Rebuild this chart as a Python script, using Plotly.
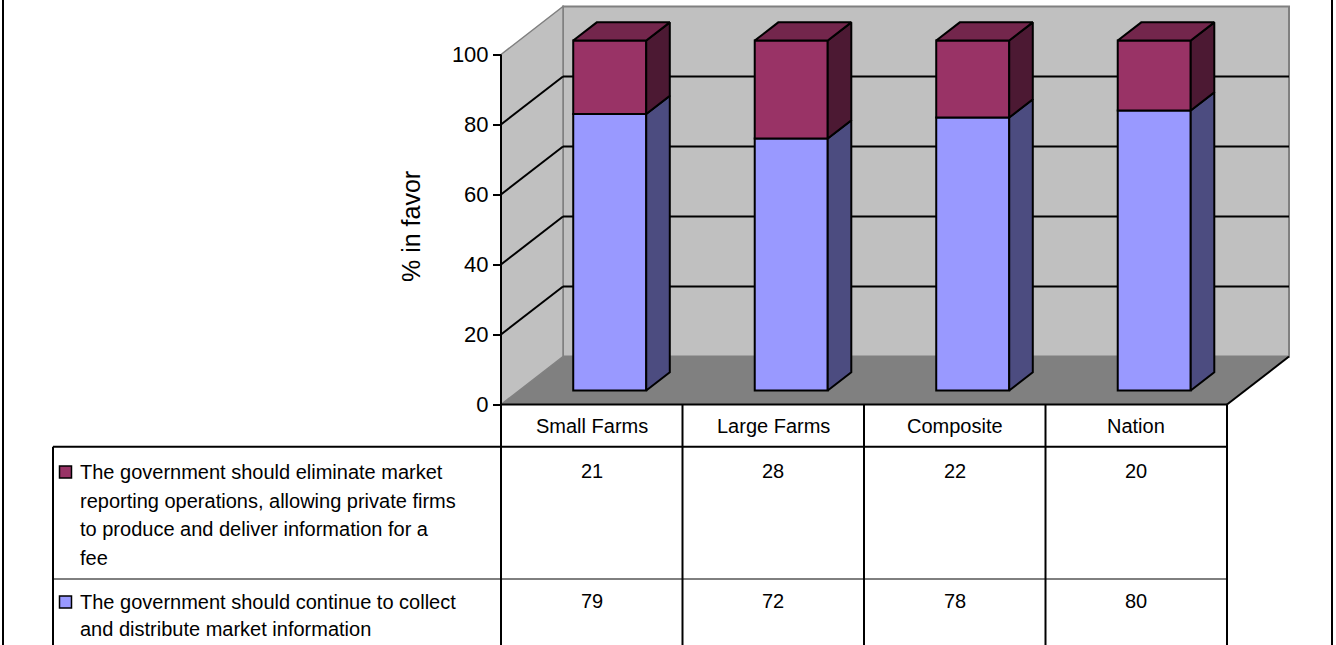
import plotly.graph_objects as go

# ---- data -------------------------------------------------------------
categories = ["Small Farms", "Large Farms", "Composite", "Nation"]
continue_vals = [79, 72, 78, 80]      # collect & distribute
eliminate_vals = [21, 28, 22, 20]     # eliminate, private firms
series_labels = [
    ["The government should eliminate market",
     "reporting operations, allowing private firms",
     "to produce and deliver information for a",
     "fee"],
    ["The government should continue to collect",
     "and distribute market information"],
]
y_ticks = [0, 20, 40, 60, 80, 100]
axis_title = "% in favor"

# ---- styling / layout constants -----------------------------------------
W, H = 1336, 645
FONT = "Arial, Liberation Sans, sans-serif"
BLUE, BLUE_SIDE = "#9999FF", "#4C4C80"
RED, RED_SIDE, RED_TOP = "#993366", "#4C1933", "#73264C"
WALL, FLOOR, EDGE = "#C0C0C0", "#808080", "#808080"

X0_PX, CAT_PX = 501, 181.5      # left front floor corner, width of one category
Y0_PX, VAL_PX = 404.5, 3.5      # baseline pixel row, pixels per percent

x_lo = -0.5 - X0_PX / CAT_PX
x_hi = x_lo + W / CAT_PX
y_lo = (Y0_PX - H) / VAL_PX
y_hi = Y0_PX / VAL_PX


def px2x(px):
    return -0.5 + (px - X0_PX) / CAT_PX


def py2y(py):
    return (Y0_PX - py) / VAL_PX


DX = 62 / CAT_PX            # oblique depth offset (x)
DY = 48 / VAL_PX            # oblique depth offset (y)
F_FRONT, F_BACK = 0.29, 0.67
BAR_W = 73 / CAT_PX

n = len(categories)
xl_end = n - 0.5

fig = go.Figure()
shapes = []


def path(pts):
    return "M " + " L ".join(f"{x},{y}" for x, y in pts) + " Z"


# walls and floor
shapes.append(dict(type="path", layer="below", xref="x", yref="y",
                   path=path([(-0.5, 0), (xl_end, 0), (xl_end + DX, DY), (-0.5 + DX, DY)]),
                   fillcolor=FLOOR, line=dict(width=0)))
shapes.append(dict(type="rect", layer="below", xref="x", yref="y",
                   x0=-0.5 + DX, x1=xl_end + DX, y0=DY, y1=100 + DY,
                   fillcolor=WALL, line=dict(color=EDGE, width=2)))
shapes.append(dict(type="path", layer="below", xref="x", yref="y",
                   path=path([(-0.5, 0), (-0.5, 100), (-0.5 + DX, 100 + DY), (-0.5 + DX, DY)]),
                   fillcolor=WALL, line=dict(color=EDGE, width=1.5)))
# gridlines on the back and side walls
for v in y_ticks[1:-1]:
    shapes.append(dict(type="line", layer="below", xref="x", yref="y",
                       x0=-0.5 + DX, x1=xl_end + DX, y0=v + DY, y1=v + DY,
                       line=dict(color="black", width=2)))
    shapes.append(dict(type="line", layer="below", xref="x", yref="y",
                       x0=-0.5, x1=-0.5 + DX, y0=v, y1=v + DY,
                       line=dict(color="black", width=2)))
# floor right edge
shapes.append(dict(type="line", layer="above", xref="x", yref="y",
                   x0=xl_end, x1=xl_end + DX, y0=0, y1=DY,
                   line=dict(color="black", width=2)))
# value axis line
shapes.append(dict(type="line", layer="above", xref="x", yref="y",
                   x0=-0.5, x1=-0.5, y0=0, y1=100,
                   line=dict(color="black", width=2)))

# ---- bars: front faces ------------------------------------------------
xs = [i + F_FRONT * DX for i in range(n)]
base0 = F_FRONT * DY
fig.add_trace(go.Bar(x=xs, y=continue_vals, base=[base0] * n, width=BAR_W,
                     marker=dict(color=BLUE, line=dict(color="black", width=2)),
                     showlegend=False, hoverinfo="skip"))
fig.add_trace(go.Bar(x=xs, y=eliminate_vals, base=[base0 + v for v in continue_vals],
                     width=BAR_W,
                     marker=dict(color=RED, line=dict(color="black", width=2)),
                     showlegend=False, hoverinfo="skip"))

# ---- bars: side and top faces -------------------------------------------
ddx = (F_BACK - F_FRONT) * DX
ddy = (F_BACK - F_FRONT) * DY


def side_faces(lows, highs):
    px, py = [], []
    for x, lo, hi in zip(xs, lows, highs):
        xr = x + BAR_W / 2
        px += [xr, xr, xr + ddx, xr + ddx, xr, None]
        py += [base0 + lo, base0 + hi, base0 + hi + ddy, base0 + lo + ddy, base0 + lo, None]
    return px, py


bx, by = side_faces([0] * n, continue_vals)
fig.add_trace(go.Scatter(x=bx, y=by, mode="lines", fill="toself", fillcolor=BLUE_SIDE,
                         line=dict(color="black", width=2), showlegend=False, hoverinfo="skip"))
tops = [a + b for a, b in zip(continue_vals, eliminate_vals)]
rx, ry = side_faces(continue_vals, tops)
fig.add_trace(go.Scatter(x=rx, y=ry, mode="lines", fill="toself", fillcolor=RED_SIDE,
                         line=dict(color="black", width=2), showlegend=False, hoverinfo="skip"))
tx, ty = [], []
for x, t in zip(xs, tops):
    xl, xr = x - BAR_W / 2, x + BAR_W / 2
    tx += [xl, xr, xr + ddx, xl + ddx, xl, None]
    ty += [base0 + t, base0 + t, base0 + t + ddy, base0 + t + ddy, base0 + t, None]
fig.add_trace(go.Scatter(x=tx, y=ty, mode="lines", fill="toself", fillcolor=RED_TOP,
                         line=dict(color="black", width=2), showlegend=False, hoverinfo="skip"))

# ---- data table -------------------------------------------------------
HEAD_BOT, ROW_DIV = 446.7, 579
TABLE_LEFT = 53
bottom = y_lo
for i in range(n + 1):
    shapes.append(dict(type="line", xref="x", yref="y", x0=i - 0.5, x1=i - 0.5,
                       y0=0, y1=bottom, line=dict(color="black", width=2)))
shapes.append(dict(type="line", xref="x", yref="y", x0=px2x(TABLE_LEFT), x1=px2x(TABLE_LEFT),
                   y0=py2y(HEAD_BOT), y1=bottom, line=dict(color="black", width=2)))
shapes.append(dict(type="line", xref="x", yref="y", x0=px2x(TABLE_LEFT), x1=xl_end,
                   y0=py2y(HEAD_BOT), y1=py2y(HEAD_BOT), line=dict(color="black", width=2)))
shapes.append(dict(type="line", xref="x", yref="y", x0=px2x(TABLE_LEFT), x1=xl_end,
                   y0=py2y(ROW_DIV), y1=py2y(ROW_DIV), line=dict(color="black", width=1)))
shapes.append(dict(type="line", xref="x", yref="y", x0=-0.5, x1=xl_end,
                   y0=0, y1=0, line=dict(color="black", width=2)))
# outer frame
for xp in (3, W - 4):
    shapes.append(dict(type="line", xref="paper", yref="paper", x0=xp / W, x1=xp / W,
                       y0=0, y1=1, line=dict(color="black", width=2)))

annotations = []
tfont = dict(family=FONT, size=20, color="black")
for i, c in enumerate(categories):
    annotations.append(dict(x=i, y=py2y(425.5), text=c, showarrow=False,
                            xanchor="center", yanchor="middle", font=tfont))

row_first_line = [472, 602]
line_gap = [28.7, 27]
row_values = [eliminate_vals, continue_vals]
row_colors = [RED, BLUE]
for r in range(2):
    for i, v in enumerate(row_values[r]):
        annotations.append(dict(x=i, y=py2y(row_first_line[r] - 1), text=str(v), showarrow=False,
                                xanchor="center", yanchor="middle", font=tfont))
    for k, line in enumerate(series_labels[r]):
        annotations.append(dict(x=px2x(78), y=py2y(row_first_line[r] + k * line_gap[r]),
                                text=line, showarrow=False, xanchor="left",
                                yanchor="middle", font=tfont))
    fig.add_trace(go.Scatter(x=[px2x(65.5)], y=[py2y(row_first_line[r])], mode="markers",
                             marker=dict(symbol="square", size=12, color=row_colors[r],
                                         line=dict(color="black", width=1.5)),
                             showlegend=False, hoverinfo="skip"))

annotations.append(dict(x=411 / W, y=1 - 227 / H, xref="paper", yref="paper",
                        text=axis_title, textangle=-90, showarrow=False,
                        xanchor="center", yanchor="middle",
                        font=dict(family=FONT, size=25, color="black")))

fig.update_layout(
    width=W, height=H,
    margin=dict(l=0, r=0, t=0, b=0),
    paper_bgcolor="white", plot_bgcolor="white",
    barmode="overlay",
    showlegend=False,
    xaxis=dict(range=[x_lo, x_hi], domain=[0, 1], visible=False, fixedrange=True),
    yaxis=dict(range=[y_lo, y_hi], domain=[0, 1], anchor="free", position=X0_PX / W,
               tickvals=y_ticks, ticks="outside", ticklen=8, tickwidth=2, tickcolor="black",
               showgrid=False, zeroline=False, showline=False,
               tickfont=dict(family=FONT, size=22, color="black"), fixedrange=True),
    shapes=shapes,
    annotations=annotations,
)

fig.write_html("out.html")
